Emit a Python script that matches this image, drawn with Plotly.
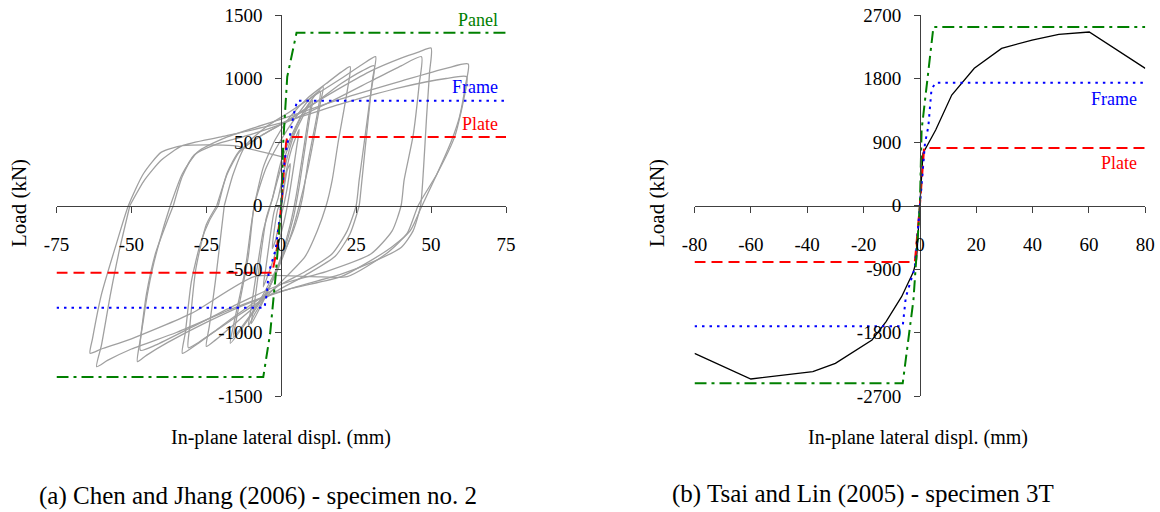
import plotly.graph_objects as go

# ---------------- data: (a) Chen and Jhang (2006) ----------------
xt_a = [-75, -50, -25, 0, 25, 50, 75]
yt_a = [-1500, -1000, -500, 0, 500, 1000, 1500]
xt_b = [-80, -60, -40, -20, 0, 20, 40, 60, 80]
yt_b = [-2700, -1800, -900, 0, 900, 1800, 2700]

# cyclic test loops (displacement mm, load kN)
c1_x = [0, 1, 2, 3, 2.6, 1, -0.5, -2, -3, -2.6, -1, 0]
c1_y = [0, 150, 280, 330, 230, 20, -120, -280, -340, -240, -20, 0]
c2_x = [0, 1.5, 3.5, 6, 5.2, 2.5, 1, -2, -4, -6, -5.2, -2.5, -1]
c2_y = [0, 250, 450, 600, 470, 60, -120, -380, -520, -640, -500, -60, 60]
c3_x = [-1, 1.5, 4, 7, 10, 9, 5, 3, 0, -4, -7, -10, -9, -5, -3]
c3_y = [60, 330, 540, 690, 820, 680, 80, -150, -400, -650, -800, -930, -780, -100, 50]
c3b_x = [-3, 0, 4, 8, 10.5, 9.5, 6, 4, 0, -5, -9, -11, -10, -6, -3]
c3b_y = [50, 350, 580, 760, 830, 700, 150, -100, -420, -700, -860, -950, -800, -200, 50]
c4_x = [-3, 0, 4, 8, 11, 14, 13, 9, 6, 3, -2, -7, -12, -17, -16, -12, -10, -9]
c4_y = [50, 300, 560, 760, 860, 935, 800, 300, 0, -250, -550, -760, -930, -1085, -950, -500, -150, 0]
c4b_x = [-9, -5, 0, 5, 10, 13, 12.3, 9, 7, 4, -2, -8, -13, -16, -15, -11, -9]
c4b_y = [0, 300, 520, 700, 850, 900, 760, 350, 50, -200, -520, -780, -950, -1040, -900, -400, 0]
c5_x = [-9, -6, -2, 3, 9, 15, 20, 23, 22, 19, 17, 15, 12, 8, 0, -8, -16, -22, -25, -24, -22, -20, -19]
c5_y = [0, 300, 520, 700, 850, 960, 1050, 1093, 900, 500, 200, 0, -200, -400, -600, -780, -940, -1060, -1110, -950, -600, -200, 0]
c6_x = [-19, -16, -12, -5, 3, 12, 20, 27, 31.5, 30.5, 28, 26, 25, 22, 17, 8, 0, -10, -20, -28, -33, -32, -30, -27, -24, -21]
c6_y = [0, 250, 470, 620, 740, 880, 1000, 1110, 1172, 1000, 550, 200, 0, -200, -380, -520, -620, -780, -950, -1090, -1164, -1000, -600, -300, -120, 0]
c7_x = [-21, -18, -14, -6, 3, 12, 20, 27, 31, 30, 28, 26.5, 26, 23, 18, 8, -2, -14, -24, -31, -30.5, -28.5, -25, -21.5]
c7_y = [0, 260, 430, 560, 680, 820, 960, 1060, 1100, 900, 450, 100, 0, -220, -400, -550, -680, -860, -1020, -1120, -950, -500, -150, 0]
c8_x = [-21.5, -18, -14, -8, 0, 10, 20, 30, 40, 46, 50, 49.5, 48.5, 47.5, 46.5, 44, 40, 30, 20, 5, -10, -25, -38, -45, -48, -47, -45, -42, -38, -36]
c8_y = [0, 250, 420, 530, 640, 790, 930, 1060, 1160, 1210, 1240, 1050, 700, 300, 0, -200, -330, -450, -540, -640, -760, -920, -1080, -1180, -1230, -1050, -700, -380, -120, 0]
c9_x = [-36, -33, -29, -22, -10, 0, 15, 30, 40, 46.8, 46, 44, 41, 40, 37, 30, 15, 0, -15, -30, -42, -47, -46, -43, -39, -37]
c9_y = [0, 230, 400, 480, 560, 640, 800, 980, 1100, 1172, 950, 550, 200, 0, -200, -380, -520, -620, -780, -960, -1100, -1140, -900, -500, -150, 0]
c10_x = [-37, -33, -28, -18, 0, 20, 40, 55, 62.4, 61.5, 59.5, 56.9, 52, 47, 43, 37, 28, 20, 1.5, -15, -35, -50, -58, -61.6, -60, -57, -54, -50.5]
c10_y = [0, 250, 420, 540, 680, 840, 980, 1080, 1114, 950, 700, 516, 250, 0, -200, -324, -460, -560, -665, -800, -1000, -1130, -1220, -1269, -1100, -700, -350, 0]
c11_x = [-50.5, -45.6, -40, -33, -20, 0, 20, 40, 55, 61.9, 61, 58, 52, 45.7, 42, 35, 22, 10, -9, -30, -50, -60, -63.8, -63, -60, -55, -51, -46, -40, -33, -16, 0]
c11_y = [0, 201, 358, 471, 540, 650, 800, 930, 1000, 1014, 850, 550, 250, 0, -220, -380, -560, -560, -560, -850, -1050, -1130, -1164, -1050, -700, -300, 0, 250, 420, 471, 471, 384]

# idealised models (a)
panel_x_a = [-75, -6.0, -3.7, -1.9, 0, 0.7, 2.0, 5.1, 75]
panel_y_a = [-1350, -1350, -1006, -560, 0, 516, 1014, 1360, 1360]
frame_x_a = [-75, -5.6, -4.8, -4.2, -1.9, 0, 0.9, 2.0, 3.1, 4.0, 5.3, 75]
frame_y_a = [-805, -805, -690, -530, -350, 0, 306, 490, 568, 700, 825, 825]
plate_x_a = [-75, -3.0, -1.5, 0, 1.6, 2.0, 75]
plate_y_a = [-530, -530, -350, 0, 490, 540, 540]

# ---------------- data: (b) Tsai and Lin (2005) ----------------
test_x_b = [-80, -60, -38, -30, -17, -12, -6.5, -2.3, -1.2, 0, 1.1, 5.6, 11.3, 19.3, 29, 39.8, 49.3, 60.1, 80]
test_y_b = [-2095, -2459, -2355, -2237, -1906, -1646, -1292, -938, -772, 0, 740, 1070, 1566, 1944, 2227, 2345, 2425, 2459, 1944]
panel_x_b = [-80, -6.1, -2.3, 0, 0.6, 4.8, 80]
panel_y_b = [-2520, -2520, -1340, 0, 1070, 2530, 2530]
frame_x_b = [-80, -6.1, -5.0, -1.8, 0, 1.8, 3.0, 4.1, 5.5, 80]
frame_y_b = [-1710, -1710, -1300, -880, 0, 880, 1120, 1640, 1740, 1740]
plate_x_b = [-80, -1.8, 0, 1.5, 80]
plate_y_b = [-800, -800, 0, 815, 815]

FONT = "Liberation Serif, Times New Roman, Times, serif"
GREEN = "#008000"
BLUE = "#0000ff"
RED = "#ff0000"
GRAY = "#a0a0a0"

fig = go.Figure()

cycles = [(c1_x, c1_y), (c2_x, c2_y), (c3_x, c3_y), (c3b_x, c3b_y), (c4_x, c4_y),
          (c4b_x, c4b_y), (c5_x, c5_y), (c6_x, c6_y), (c7_x, c7_y), (c8_x, c8_y),
          (c9_x, c9_y), (c10_x, c10_y), (c11_x, c11_y)]
for cx, cy in cycles:
    fig.add_trace(go.Scatter(x=cx, y=cy, mode="lines", xaxis="x", yaxis="y",
                             line=dict(color=GRAY, width=1.3, shape="spline", smoothing=0.6),
                             showlegend=False))

def ref_lines(px, py, fx, fy, lx, ly, xa, ya):
    fig.add_trace(go.Scatter(x=lx, y=ly, mode="lines", xaxis=xa, yaxis=ya,
                             line=dict(color=RED, width=2, dash="11px,6px"), showlegend=False))
    fig.add_trace(go.Scatter(x=fx, y=fy, mode="lines", xaxis=xa, yaxis=ya,
                             line=dict(color=BLUE, width=2, dash="2.5px,5px"), showlegend=False))
    fig.add_trace(go.Scatter(x=px, y=py, mode="lines", xaxis=xa, yaxis=ya,
                             line=dict(color=GREEN, width=2, dash="12px,5px,3px,5px"), showlegend=False))

ref_lines(panel_x_a, panel_y_a, frame_x_a, frame_y_a, plate_x_a, plate_y_a, "x", "y")

fig.add_trace(go.Scatter(x=test_x_b, y=test_y_b, mode="lines", xaxis="x2", yaxis="y2",
                         line=dict(color="black", width=1.3), showlegend=False))
ref_lines(panel_x_b, panel_y_b, frame_x_b, frame_y_b, plate_x_b, plate_y_b, "x2", "y2")

AX = "#404040"
tickfont = dict(family=FONT, size=19, color="black")

def xax(dom, rng, tv, pos):
    return dict(domain=dom, range=rng, anchor="free", position=pos,
                tickvals=tv, ticktext=[str(v) for v in tv], automargin=False,
                showline=True, linecolor=AX, linewidth=1, ticks="outside",
                ticklen=6, tickcolor=AX, showgrid=False, zeroline=False,
                tickfont=tickfont, ticklabelstandoff=16, fixedrange=True)

def yax(rng, tv, pos):
    return dict(domain=[0.22656, 0.97070], range=rng, anchor="free", position=pos,
                tickvals=tv, ticktext=[str(v) for v in tv], automargin=False,
                showline=True, linecolor=AX, linewidth=1, ticks="outside",
                ticklen=6, tickcolor=AX, showgrid=False, zeroline=False,
                tickfont=tickfont, ticklabelstandoff=9, fixedrange=True)

ann = []
def lab(text, x, y, color, xr, yr):
    ann.append(dict(text=text, x=x, y=y, xref=xr, yref=yr, xanchor="right", yanchor="middle",
                    showarrow=False, font=dict(family=FONT, size=18, color=color)))

lab("Panel", 73, 1461, GREEN, "x", "y")
lab("Frame", 73, 931, BLUE, "x", "y")
lab("Plate", 73, 639, RED, "x", "y")
lab("Panel", 77.7, 2723, GREEN, "x2", "y2")
lab("Frame", 77.7, 1505, BLUE, "x2", "y2")
lab("Plate", 77.7, 598, RED, "x2", "y2")

def ptxt(text, xpx, ypx, size, angle=0):
    ann.append(dict(text=text, x=xpx / 1160, y=1 - ypx / 512, xref="paper", yref="paper",
                    xanchor="center", yanchor="middle", textangle=angle, showarrow=False,
                    font=dict(family=FONT, size=size, color="black")))

ptxt("Load (kN)", 19, 203, 21, -90)
ptxt("Load (kN)", 657, 203, 21, -90)
ptxt("In-plane lateral displ. (mm)", 281, 437, 20)
ptxt("In-plane lateral displ. (mm)", 918, 437, 20)
ptxt("(a) Chen and Jhang (2006) - specimen no. 2", 258, 496, 25)
ptxt("(b) Tsai and Lin (2005) - specimen 3T", 863, 494, 25)

fig.update_layout(
    template="none",
    width=1160, height=512, margin=dict(l=0, r=0, t=0, b=0, pad=0),
    font=dict(family=FONT, color="black"),
    paper_bgcolor="white", plot_bgcolor="white", showlegend=False,
    xaxis=xax([0.04871, 0.43621], [-75, 75], xt_a, 0.59863),
    yaxis=yax([-1500, 1500], yt_a, 0.24250),
    xaxis2=xax([0.59871, 0.98733], [-80, 80], xt_b, 0.59863),
    yaxis2=yax([-2700, 2700], yt_b, 0.79310),
    annotations=ann,
)

fig.write_html("out.html")
